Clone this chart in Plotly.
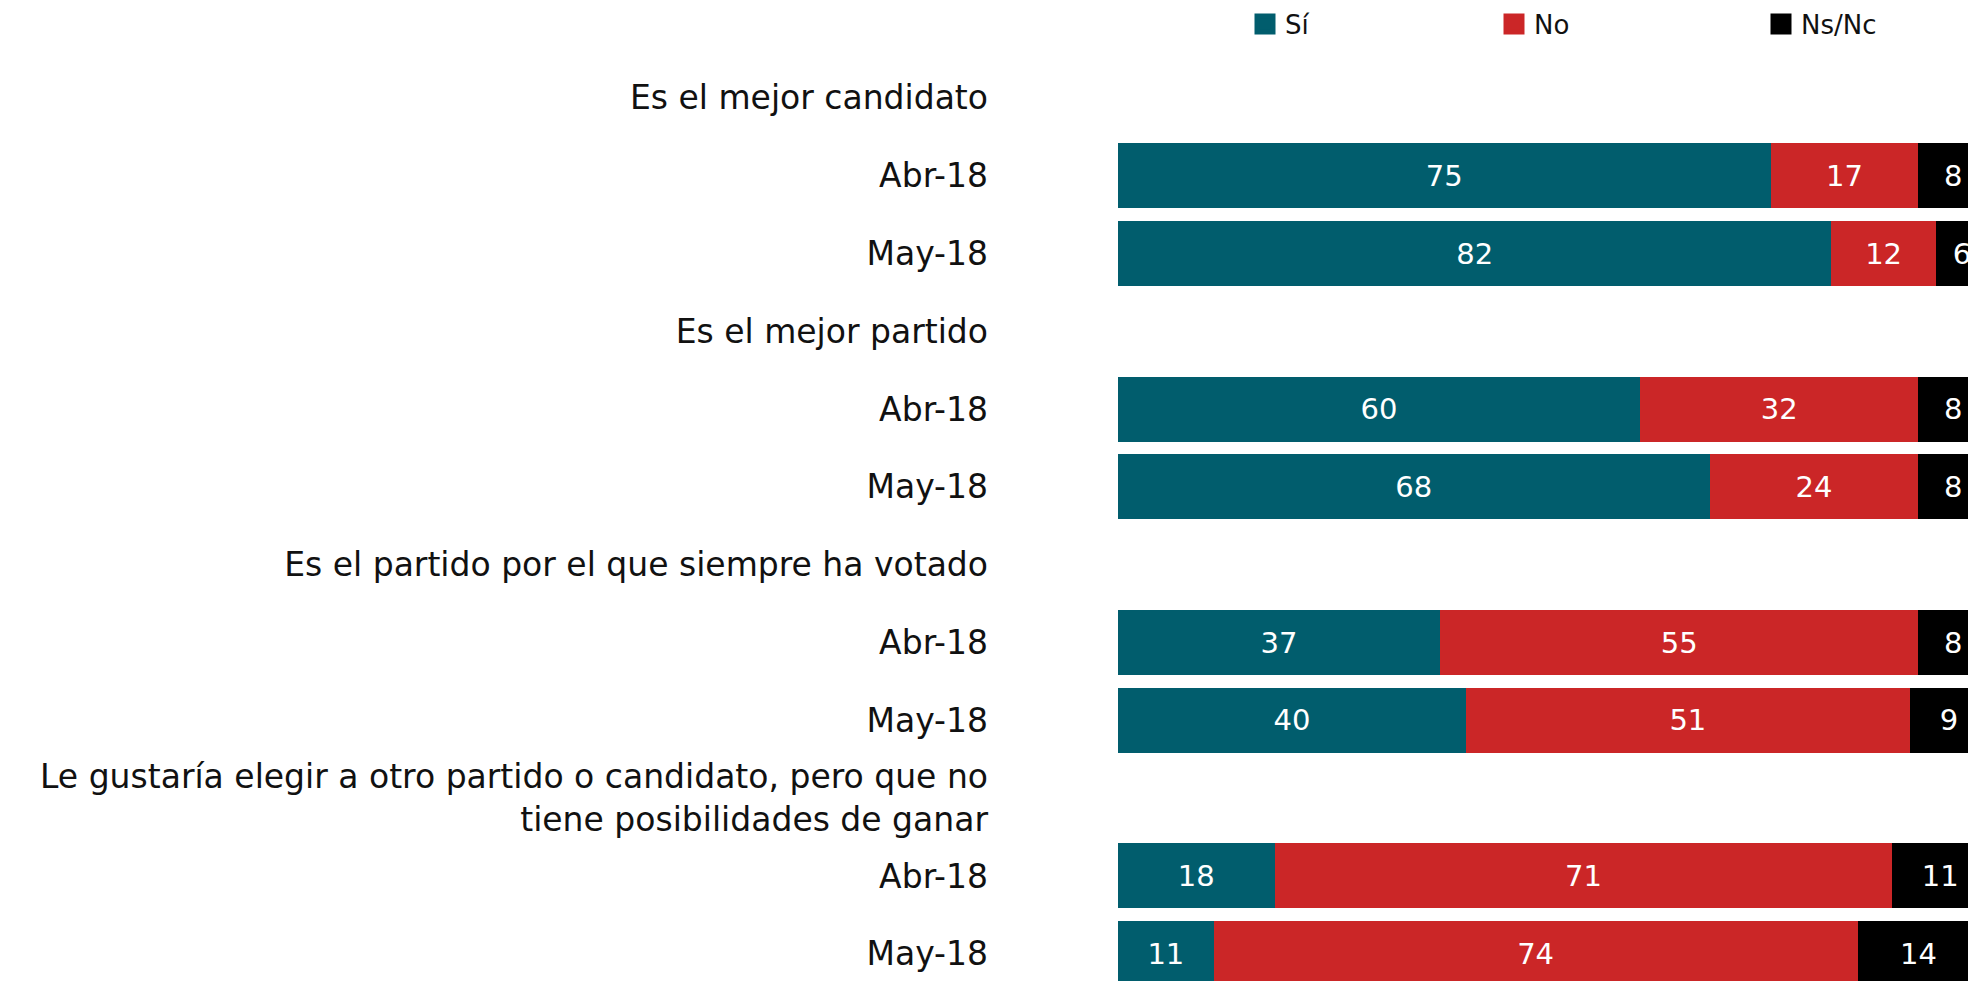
import plotly.graph_objects as go

row_labels = [
    "Es el mejor candidato", "Abr-18", "May-18",
    "Es el mejor partido", "Abr-18", "May-18",
    "Es el partido por el que siempre ha votado", "Abr-18", "May-18",
    "Le gustaría elegir a otro partido o candidato, pero que no<br>tiene posibilidades de ganar",
    "Abr-18", "May-18",
]
si = [None, 75, 82, None, 60, 68, None, 37, 40, None, 18, 11]
no = [None, 17, 12, None, 32, 24, None, 55, 51, None, 71, 74]
ns = [None, 8, 6, None, 8, 8, None, 8, 9, None, 11, 14]

series_names = ["Sí", "No", "Ns/Nc"]
series_values = [si, no, ns]
series_colors = ["#015D6D", "#CB2627", "#000000"]
legend_ids = ["legend", "legend2", "legend3"]
legend_x_px = [1245, 1494, 1761]

FONT = "DejaVu Sans"
W, H = 1968, 981
y_pos = list(range(len(row_labels)))

fig = go.Figure()
for name, vals, col, lid in zip(series_names, series_values, series_colors, legend_ids):
    fig.add_trace(go.Bar(
        y=y_pos, x=vals, orientation="h", name=name,
        marker=dict(color=col, line=dict(width=0)),
        width=0.835,
        texttemplate="%{x}", textposition="inside", insidetextanchor="middle",
        textangle=0, constraintext="none",
        textfont=dict(color="white", size=29, family=FONT),
        showlegend=False, legendgroup=name,
    ))
    fig.add_trace(go.Scatter(
        x=[None], y=[None], mode="markers", name=name, legendgroup=name, legend=lid,
        marker=dict(symbol="square", size=16, color=col, line=dict(width=5, color=col)),
        showlegend=True, hoverinfo="skip",
    ))

legend_common = dict(
    orientation="h", xref="container", yref="container",
    y=1 - 24 / H, xanchor="left", yanchor="middle",
    font=dict(size=26, family=FONT, color="#111111"),
    bgcolor="rgba(0,0,0,0)", borderwidth=0,
    itemclick=False, itemdoubleclick=False,
)
legends = {lid: dict(legend_common, x=px / W) for lid, px in zip(legend_ids, legend_x_px)}

fig.update_layout(
    width=W, height=H,
    margin=dict(l=1118, r=0, t=59, b=0, pad=0),
    barmode="stack",
    plot_bgcolor="white", paper_bgcolor="white",
    font=dict(family=FONT, color="#111111", size=33),
    xaxis=dict(range=[0, 97.7], visible=False, fixedrange=True),
    yaxis=dict(
        range=[11.35, -0.5], tickmode="array", tickvals=y_pos, ticktext=row_labels,
        showgrid=False, zeroline=False, showline=False, ticks="",
        ticklabelstandoff=129, tickfont=dict(size=33, family=FONT, color="#111111"),
        fixedrange=True,
    ),
    **legends,
)

fig.write_html(
    "out.html",
    config={"displayModeBar": False},
    post_script="document.body.style.margin='0';document.body.style.overflow='hidden';",
)
